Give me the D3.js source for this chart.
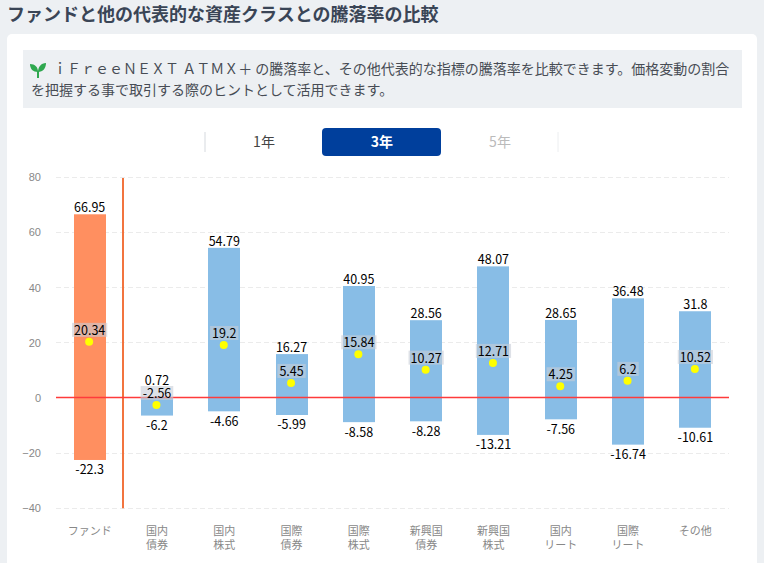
<!DOCTYPE html>
<html lang="ja">
<head>
<meta charset="utf-8">
<script src="https://cdn.jsdelivr.net/npm/d3@7"></script>
<style>
    html, body { margin: 0; padding: 0; background: #edf0f3; overflow: hidden; }
    svg { display: block; font-family: "Noto Sans CJK JP", "Noto Sans", sans-serif; }
</style>
</head>
<body>
<div id="chart"></div>
<script>
var categories = [
    ['ファンド'], ['国内', '債券'], ['国内', '株式'], ['国際', '債券'], ['国際', '株式'],
    ['新興国', '債券'], ['新興国', '株式'], ['国内', 'リート'], ['国際', 'リート'], ['その他']
];
var highs = [66.95, 0.72, 54.79, 16.27, 40.95, 28.56, 48.07, 28.65, 36.48, 31.8];
var lows = [-22.3, -6.2, -4.66, -5.99, -8.58, -8.28, -13.21, -7.56, -16.74, -10.61];
var averages = [20.34, -2.56, 19.2, 5.45, 15.84, 10.27, 12.71, 4.25, 6.2, 10.52];
var yTicks = [80, 60, 40, 20, 0, -20, -40];
var periods = ['1年', '3年', '5年'];
var noteLines = [
    'ｉＦｒｅｅＮＥＸＴ ＡＴＭＸ＋ の騰落率と、その他代表的な指標の騰落率を比較できます。価格変動の割合',
    'を把握する事で取引する際のヒントとして活用できます。'
];

var w = 764;
var h = 563;
var svg = d3.select('#chart').append('svg').attr('width', w).attr('height', h);

// page furniture
svg.append('text').attr('x', 7).attr('y', 20.5).attr('font-size', 18).attr('font-weight', 700)
    .attr('fill', '#3a4556').text('ファンドと他の代表的な資産クラスとの騰落率の比較');
svg.append('rect').attr('x', 7).attr('y', 34).attr('width', 750).attr('height', 560).attr('rx', 5).attr('fill', '#fff');
svg.append('rect').attr('x', 23).attr('y', 50).attr('width', 719).attr('height', 58).attr('fill', '#edf0f3');

// seedling icon
var leaf = svg.append('g').attr('transform', 'translate(38,70)');
leaf.append('path').attr('d', 'M-1,8 L-1,1 L1,1 L1,8 Z').attr('fill', '#2fa84f');
leaf.append('path').attr('d', 'M0,2 C-5,2 -8,-1 -8,-6 C-3,-6 0,-3 0,2 Z').attr('fill', '#2fa84f');
leaf.append('path').attr('d', 'M0,2 C0,-3 3,-7 8,-7 C8,-2 5,2 0,2 Z').attr('fill', '#2fa84f');

svg.selectAll('text.note').data(noteLines).enter().append('text')
    .attr('class', 'note')
    .attr('x', function (d, i) { return i === 0 ? 53 : 31; })
    .attr('y', function (d, i) { return 73.5 + i * 21.5; })
    .attr('font-size', 14)
    .attr('fill', '#474c54')
    .text(function (d) { return d; });

// period switch
var periodX = d3.scalePoint().domain(periods).range([264, 500]);
svg.append('rect').attr('x', 322).attr('y', 128).attr('width', 119).attr('height', 28).attr('rx', 4).attr('fill', '#003f9c');
[205, 558].forEach(function (x, i) {
    svg.append('line').attr('x1', x).attr('x2', x).attr('y1', 132).attr('y2', 152)
        .attr('stroke', i === 0 ? '#d5d9de' : '#eceef0');
});
svg.selectAll('text.period').data(periods).enter().append('text')
    .attr('class', 'period')
    .attr('x', function (d) { return periodX(d); })
    .attr('y', 147)
    .attr('text-anchor', 'middle')
    .attr('font-size', 14)
    .attr('font-weight', function (d) { return d === '3年' ? 700 : 400; })
    .attr('fill', function (d) { return d === '3年' ? '#fff' : d === '1年' ? '#444' : '#bbb'; })
    .text(function (d) { return d; });

// chart
var x = d3.scaleBand().domain(d3.range(categories.length)).range([56, 729]);
var y = d3.scaleLinear().domain([-40, 80]).range([508.3, 177.3]);
var barW = 32;

function crisp(v) {
    return Math.floor(v) + 0.5;
}

var yAxis = svg.append('g')
    .attr('transform', 'translate(56,0)')
    .call(d3.axisLeft(y).tickValues(yTicks).tickSize(0).tickPadding(15).tickFormat(d3.format('d')));
yAxis.select('.domain').remove();
yAxis.selectAll('text').attr('font-family', null).attr('font-size', 11).attr('fill', '#888');

svg.append('g').selectAll('line').data(yTicks.filter(function (d) { return d !== 0; })).enter().append('line')
    .attr('x1', 56).attr('x2', 729)
    .attr('y1', function (d) { return crisp(y(d)); })
    .attr('y2', function (d) { return crisp(y(d)); })
    .attr('stroke', '#ebebeb')
    .attr('stroke-dasharray', '5,3');

svg.append('g').selectAll('rect').data(categories).enter().append('rect')
    .attr('x', function (d, i) { return Math.round(x(i) + x.bandwidth() / 2 - barW / 2); })
    .attr('y', function (d, i) { return y(highs[i]) + 1; })
    .attr('width', barW)
    .attr('height', function (d, i) { return y(lows[i]) - y(highs[i]) - 0.5; })
    .attr('fill', function (d, i) { return i === 0 ? '#ff8f60' : '#88bde6'; });

// divider between the fund and the other asset classes
svg.append('line').attr('x1', x(1) - 0.3).attr('x2', x(1) - 0.3).attr('y1', y(80) + 0.7).attr('y2', y(-40))
    .attr('stroke', '#f2743f').attr('stroke-width', 2);

svg.append('line').attr('x1', 56).attr('x2', 729).attr('y1', crisp(y(0))).attr('y2', crisp(y(0)))
    .attr('stroke', '#ff3b3b').attr('stroke-width', 1.4);

var labels = svg.append('g').attr('font-size', 12.5).attr('fill', '#000').attr('text-anchor', 'middle');

categories.forEach(function (c, i) {
    var cx = x(i) + x.bandwidth() / 2;
    var avgY = y(averages[i]);

    svg.append('circle').attr('cx', cx - 0.5).attr('cy', avgY).attr('r', 4).attr('fill', '#ffff00');

    var box = labels.append('rect')
        .attr('y', avgY - 19).attr('height', 14)
        .attr('fill', '#c8cdd7').attr('fill-opacity', 0.6);
    var avgText = labels.append('text').attr('x', cx).attr('y', avgY - 11.5).attr('dy', '0.35em').text(averages[i]);
    var boxW = avgText.node().getComputedTextLength() + 4;
    box.attr('x', cx - boxW / 2).attr('width', boxW);

    // the top label moves up when the average label would cover it
    var topY = Math.min(y(highs[i]) - 5.5, avgY - 24.5);
    labels.append('text').attr('x', cx).attr('y', topY).attr('dy', '0.35em').text(highs[i]);
    labels.append('text').attr('x', cx).attr('y', y(lows[i]) + 10.5).attr('dy', '0.35em').text(lows[i]);

    c.forEach(function (line, j) {
        svg.append('text').attr('x', cx).attr('y', 535 + j * 14)
            .attr('text-anchor', 'middle').attr('font-size', 11).attr('fill', '#888')
            .text(line);
    });
});
</script>
</body>
</html>
